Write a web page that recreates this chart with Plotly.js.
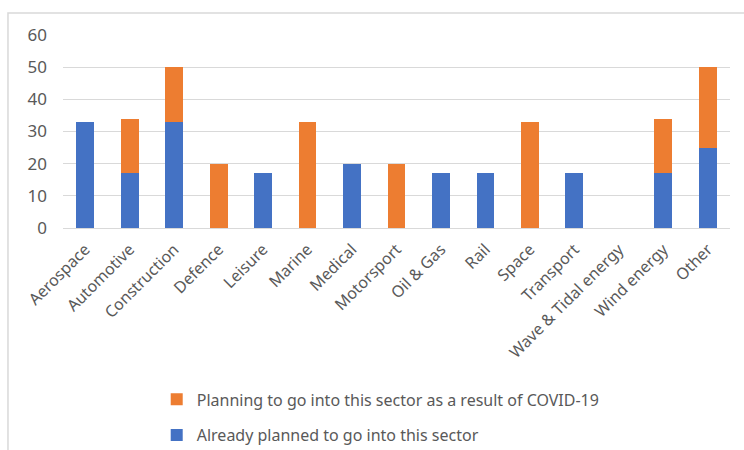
<!DOCTYPE html>
<html><head><meta charset="utf-8">
<script src="https://cdn.plot.ly/plotly-3.0.1.min.js"></script>
<style>html,body{margin:0;padding:0;background:#fff}#chart{width:744px;height:450px}</style>
</head><body><div id="chart"></div>
<script>
const categories = ["Aerospace","Automotive","Construction","Defence","Leisure","Marine","Medical","Motorsport","Oil & Gas","Rail","Space","Transport","Wave & Tidal energy","Wind energy","Other"];
const alreadyPlanned = [33,17,33,0,17,0,20,0,17,17,0,17,0,17,25];
const covidPlanned = [0,17,17,20,0,33,0,20,0,0,33,0,0,17,25];
const seriesNames = ["Already planned to go into this sector","Planning to go into this sector as a result of COVID-19"];
const yTicks = [0,10,20,30,40,50,60];

const fam = "Noto Sans, sans-serif";
const grey = "#595959";
const traces = [
  {type:"bar", x:categories, y:alreadyPlanned, name:seriesNames[0], marker:{color:"#4472C4"}, legendgroup:"a", legendrank:2},
  {type:"bar", x:categories, y:covidPlanned, name:seriesNames[1], marker:{color:"#ED7D31"}, legendgroup:"b", legendrank:1}
];
const layout = {
  width:744, height:450, barmode:"stack", bargap:0.6,
  margin:{l:63, r:14, t:35, b:222, autoexpand:false},
  paper_bgcolor:"#fff", plot_bgcolor:"#fff",
  font:{family:fam, size:15, color:grey},
  showlegend:true,
  legend:{x:0.1405, xanchor:"left", y:-0.80, yanchor:"top", traceorder:"grouped", tracegroupgap:12, font:{family:fam,size:16,color:grey}, itemwidth:30},
  xaxis:{tickangle:-45, automargin:false, ticklabelstandoff:8, tickfont:{family:fam,size:16,color:grey}, showgrid:false, showline:false, ticks:"", fixedrange:true},
  yaxis:{range:[0,60], automargin:false, tickvals:yTicks, showgrid:true, gridcolor:"#d9d9d9", gridwidth:1, zeroline:true, zerolinecolor:"#d9d9d9", zerolinewidth:1, showline:false, ticks:"", ticklabelstandoff:15, tickfont:{family:fam,size:17,color:grey}},
  shapes:[{type:"rect", xref:"paper", yref:"paper", x0:-0.0825, x1:1.1, y0:-1.3, y1:1.114, line:{color:"#d9d9d9", width:1.5}, fillcolor:"rgba(0,0,0,0)", layer:"below"}]
};
Plotly.newPlot("chart", traces, layout, {displayModeBar:false, staticPlot:true});
</script></body></html>
